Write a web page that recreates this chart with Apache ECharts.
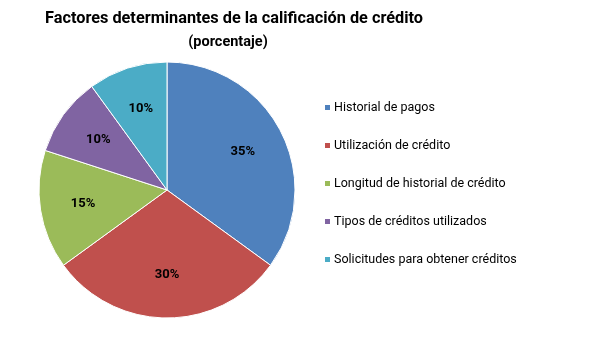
<!DOCTYPE html>
<html>
<head>
<meta charset="utf-8">
<script src="https://cdn.jsdelivr.net/npm/echarts@6/dist/echarts.min.js"></script>
<style>
  html, body { margin: 0; padding: 0; background: #fff; }
  #main { width: 592px; height: 352px; }
</style>
</head>
<body>
<div id="main"></div>
<script>
var categories = ['Historial de pagos', 'Utilización de crédito', 'Longitud de historial de crédito', 'Tipos de créditos utilizados', 'Solicitudes para obtener créditos'];
var values = [35, 30, 15, 10, 10];
var colors = ['#4F81BD', '#C0504D', '#9BBB59', '#8064A2', '#4BACC6'];

var dom = document.getElementById('main');
var myChart = echarts.init(dom);
var font = 'Roboto, sans-serif';

var data = categories.map(function (name, i) {
    return { name: name, value: values[i], itemStyle: { color: colors[i] } };
});

var option = {
    animation: false,
    title: [
        {
            text: 'Factores determinantes de la calificación de crédito',
            left: 229, top: 6, textAlign: 'center',
            textStyle: { fontFamily: font, fontSize: 16.3, fontWeight: 'bold', color: '#000' }
        },
        {
            text: '(porcentaje)',
            left: 223, top: 30, textAlign: 'center',
            textStyle: { fontFamily: font, fontSize: 14.5, fontWeight: 'bold', color: '#000' }
        }
    ],
    legend: {
        orient: 'vertical',
        left: 318, top: 96,
        icon: 'rect',
        itemWidth: 7, itemHeight: 7,
        itemGap: 25,
        textStyle: { fontFamily: font, fontSize: 12.5, color: '#000', padding: [0, 0, 0, -2] },
        data: categories
    },
    series: [
        {
            name: 'Factores',
            type: 'pie',
            center: [167, 190],
            radius: [0, 128],
            startAngle: 90,
            clockwise: true,
            silent: true,
            label: { show: false },
            labelLine: { show: false },
            itemStyle: { borderColor: '#fff', borderWidth: 1 },
            data: data
        },
        {
            name: 'Etiquetas',
            type: 'pie',
            center: [167, 190],
            radius: [36, 128],
            startAngle: 90,
            clockwise: true,
            silent: true,
            legendHoverLink: false,
            itemStyle: { color: 'rgba(0,0,0,0)' },
            label: {
                show: true,
                position: 'inside',
                formatter: '{c}%',
                fontFamily: font,
                fontSize: 13,
                fontWeight: 'bold',
                color: '#000'
            },
            labelLine: { show: false },
            data: categories.map(function (name, i) {
                return { name: name, value: values[i] };
            })
        }
    ]
};
myChart.setOption(option, true);
</script>
</body>
</html>
